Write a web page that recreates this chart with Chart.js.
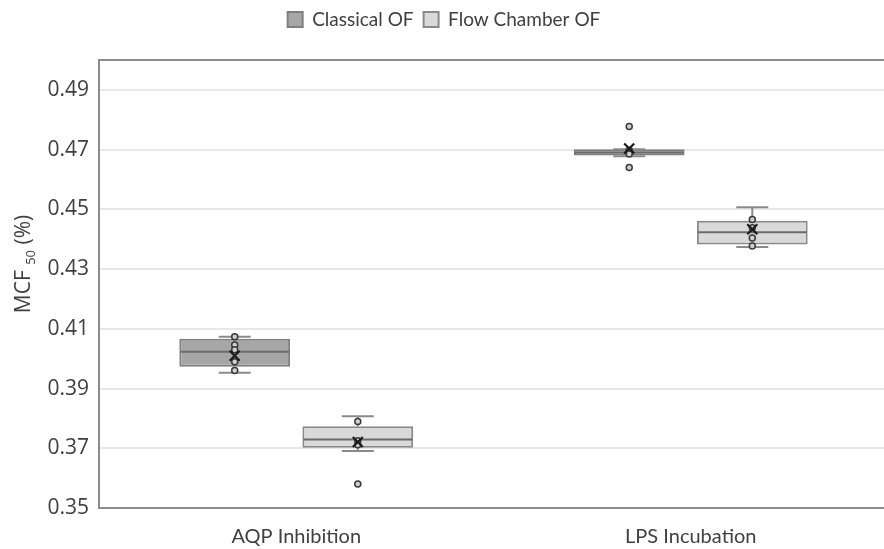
<!DOCTYPE html>
<html>
<head>
<meta charset="utf-8">
<script src="https://cdn.jsdelivr.net/npm/chart.js@4.4.0/dist/chart.umd.min.js"></script>
<style>
  html, body { margin: 0; padding: 0; background: #fff; overflow: hidden; }
  #wrap { width: 892px; height: 549px; }
</style>
</head>
<body>
<div id="wrap"><canvas id="chart" width="892" height="549"></canvas></div>
<script>
const categories = ['AQP Inhibition', 'LPS Incubation'];
const seriesNames = ['Classical OF', 'Flow Chamber OF'];
const yTicks = [0.35, 0.37, 0.39, 0.41, 0.43, 0.45, 0.47, 0.49];

// Classical OF
const classicalMin = [0.3953, 0.4678];
const classicalQ1 = [0.3973, 0.4680];
const classicalMedian = [0.4023, 0.4690];
const classicalQ3 = [0.4067, 0.4701];
const classicalMax = [0.4073, 0.4701];
const classicalMean = [0.4010, 0.4704];
const classicalPoints = [[0.4073, 0.4046, 0.4030, 0.3990, 0.3960], [0.4698, 0.4685]];
const classicalOutliers = [[], [0.4777, 0.4640]];

// Flow Chamber OF
const flowMin = [0.3691, 0.4374];
const flowQ1 = [0.3702, 0.4382];
const flowMedian = [0.3729, 0.4423];
const flowQ3 = [0.3774, 0.4462];
const flowMax = [0.3807, 0.4507];
const flowMean = [0.3721, 0.4433];
const flowPoints = [[0.3790, 0.3725, 0.3712], [0.4466, 0.4438, 0.4404, 0.4377]];
const flowOutliers = [[0.3580], []];

const stats = [
  { q1: classicalQ1, q3: classicalQ3, min: classicalMin, median: classicalMedian, max: classicalMax, mean: classicalMean, points: classicalPoints, outliers: classicalOutliers },
  { q1: flowQ1, q3: flowQ3, min: flowMin, median: flowMedian, max: flowMax, mean: flowMean, points: flowPoints, outliers: flowOutliers }
];

const boxPlugin = {
  id: 'boxDetails',
  beforeInit(chart) {
    // push the plot area down below the legend
    const fit = chart.legend.fit;
    chart.legend.fit = function () {
      fit.bind(chart.legend)();
      this.height += 21;
    };
  },
  afterDatasetsDraw(chart) {
    const ctx = chart.ctx;
    const y = chart.scales.y;
    ctx.save();
    stats.forEach((s, di) => {
      const meta = chart.getDatasetMeta(di);
      meta.data.forEach((bar, i) => {
        const x = bar.x;
        const half = bar.width / 2;
        const q1 = y.getPixelForValue(s.q1[i]);
        const q3 = y.getPixelForValue(s.q3[i]);
        const yMin = y.getPixelForValue(s.min[i]);
        const yMax = y.getPixelForValue(s.max[i]);
        const cap = 16;

        // whiskers
        ctx.strokeStyle = '#8a8a8a';
        ctx.lineWidth = 2;
        ctx.beginPath();
        ctx.moveTo(x, q3); ctx.lineTo(x, yMax);
        ctx.moveTo(x - cap, yMax); ctx.lineTo(x + cap, yMax);
        ctx.moveTo(x, q1); ctx.lineTo(x, yMin);
        ctx.moveTo(x - cap, yMin); ctx.lineTo(x + cap, yMin);
        ctx.stroke();

        // median
        const ym = y.getPixelForValue(s.median[i]);
        ctx.strokeStyle = '#6b6b6b';
        ctx.beginPath();
        ctx.moveTo(x - half + 1, ym); ctx.lineTo(x + half - 1, ym);
        ctx.stroke();

        // inner points and outliers
        ctx.lineWidth = 1.5;
        ctx.strokeStyle = '#3a3a3a';
        ctx.fillStyle = '#d0d0d0';
        s.points[i].concat(s.outliers[i]).forEach(v => {
          const py = y.getPixelForValue(v);
          ctx.beginPath();
          ctx.arc(x, py, 3, 0, Math.PI * 2);
          ctx.fill();
          ctx.stroke();
        });

        // mean marker
        const yMean = y.getPixelForValue(s.mean[i]);
        const r = 5;
        ctx.strokeStyle = '#1a1a1a';
        ctx.lineWidth = 2.2;
        ctx.beginPath();
        ctx.moveTo(x - r, yMean - r); ctx.lineTo(x + r, yMean + r);
        ctx.moveTo(x + r, yMean - r); ctx.lineTo(x - r, yMean + r);
        ctx.stroke();
      });
    });

    // plot frame
    const a = chart.chartArea;
    ctx.strokeStyle = '#8c8c8c';
    ctx.lineWidth = 2;
    ctx.strokeRect(a.left, a.top, a.right - a.left, a.bottom - a.top);
    ctx.restore();
  },
  afterDraw(chart) {
    // y axis title with a subscript
    const ctx = chart.ctx;
    const parts = [
      { t: 'MCF ', size: 21, dy: 0 },
      { t: '50', size: 13, dy: 5 },
      { t: ' (%)', size: 21, dy: 0 }
    ];
    ctx.save();
    ctx.fillStyle = '#404040';
    ctx.textBaseline = 'alphabetic';
    let total = 0;
    parts.forEach(p => {
      ctx.font = p.size + 'px "Open Sans"';
      p.w = ctx.measureText(p.t).width;
      total += p.w;
    });
    ctx.translate(30, (chart.chartArea.top + chart.chartArea.bottom) / 2 - 20);
    ctx.rotate(-Math.PI / 2);
    let cx = -total / 2;
    parts.forEach(p => {
      ctx.font = p.size + 'px "Open Sans"';
      ctx.fillText(p.t, cx, p.dy);
      cx += p.w;
    });
    ctx.restore();
  }
};

new Chart(document.getElementById('chart'), {
  type: 'bar',
  data: {
    labels: categories,
    datasets: [
      {
        label: seriesNames[0],
        data: classicalQ1.map((v, i) => [v, classicalQ3[i]]),
        backgroundColor: '#a6a6a6',
        borderColor: '#7f7f7f',
        borderWidth: 2,
        borderSkipped: false,
        categoryPercentage: 0.624,
        barPercentage: 0.9
      },
      {
        label: seriesNames[1],
        data: flowQ1.map((v, i) => [v, flowQ3[i]]),
        backgroundColor: '#d9d9d9',
        borderColor: '#8a8a8a',
        borderWidth: 2,
        borderSkipped: false,
        categoryPercentage: 0.624,
        barPercentage: 0.9
      }
    ]
  },
  options: {
    responsive: false,
    animation: false,
    layout: { padding: { top: 0, left: 0, right: 4, bottom: 0 } },
    plugins: {
      legend: {
        position: 'top',
        labels: {
          boxWidth: 15,
          boxHeight: 15,
          padding: 10,
          color: '#404040',
          font: { family: 'Lato', size: 19 }
        }
      },
      tooltip: { enabled: false }
    },
    scales: {
      x: {
        grid: { display: false },
        border: { display: true, color: '#8c8c8c', width: 2 },
        ticks: { color: '#404040', font: { family: 'Lato', size: 20 }, padding: 9 },
        afterFit: scale => { scale.height = 41; }
      },
      y: {
        min: 0.35,
        max: 0.50,
        afterBuildTicks: scale => { scale.ticks = yTicks.map(v => ({ value: v })); },
        grid: { color: '#e8e8e8', lineWidth: 2, drawTicks: false },
        border: { display: true, color: '#8c8c8c', width: 2 },
        ticks: {
          color: '#404040',
          padding: 10,
          font: { family: 'Open Sans', size: 21 },
          callback: v => v.toFixed(2)
        },
        afterFit: scale => { scale.width = 99; }
      }
    }
  },
  plugins: [boxPlugin]
});
</script>
</body>
</html>
